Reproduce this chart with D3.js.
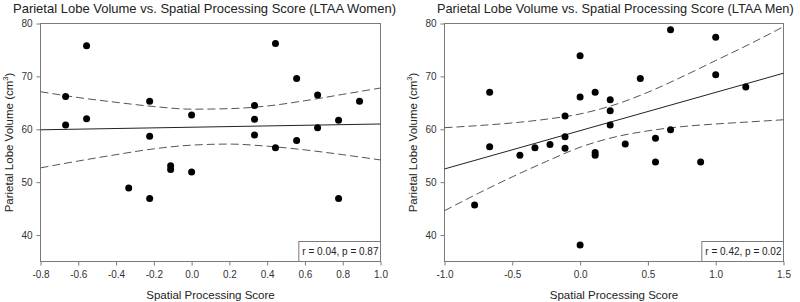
<!DOCTYPE html>
<html>
<head>
<meta charset="utf-8">
<script src="https://cdn.jsdelivr.net/npm/d3@7"></script>
<style>
  body { margin: 0; background: #fff; }
  text { font-family: "Liberation Sans", Arial, sans-serif; }
</style>
</head>
<body>
<svg id="chart" width="800" height="302"></svg>
<script>
// LTAA women: spatial processing score vs parietal lobe volume
const womenScore  = [-0.667, -0.667, -0.556, -0.556, -0.333, -0.222, -0.222, -0.222, -0.111, -0.111, 0.0, 0.0,
                     0.333, 0.333, 0.333, 0.444, 0.444, 0.556, 0.556, 0.667, 0.667, 0.778, 0.778, 0.889];
const womenVolume = [66.2, 60.8, 75.8, 62.0, 48.9, 65.3, 58.7, 46.9, 53.1, 52.4, 62.7, 51.9,
                     64.5, 61.9, 58.9, 76.2, 56.5, 69.6, 57.9, 66.5, 60.3, 61.7, 46.9, 65.3];
const womenFitX   = [-0.8, 1.0];
const womenFitY   = [59.9, 61.0];
const womenBandX  = [-0.8, -0.6, -0.4, -0.2, 0.0, 0.2, 0.4, 0.6, 0.8, 1.0];
const womenUpper  = [67.1, 66.0, 65.1, 64.3, 63.8, 63.9, 64.4, 65.4, 66.6, 67.8];
const womenLower  = [52.7, 54.0, 55.2, 56.3, 57.0, 57.2, 56.8, 56.1, 55.2, 54.2];
const womenTicks  = [-0.8, -0.6, -0.4, -0.2, 0.0, 0.2, 0.4, 0.6, 0.8, 1.0];

// LTAA men
const menScore  = [-0.778, -0.667, -0.667, -0.444, -0.333, -0.222, -0.111, -0.111, -0.111, 0.0, 0.0, 0.0,
                   0.111, 0.111, 0.111, 0.222, 0.222, 0.222, 0.333, 0.444, 0.556, 0.556, 0.667, 0.667,
                   0.889, 1.0, 1.0, 1.222];
const menVolume = [45.7, 67.0, 56.7, 55.1, 56.5, 57.1, 62.5, 58.6, 56.4, 73.9, 66.1, 38.1,
                   67.0, 55.6, 55.1, 65.6, 63.5, 60.8, 57.2, 69.6, 58.3, 53.8, 78.8, 59.9,
                   53.8, 77.4, 70.3, 68.0];
const menFitX   = [-1.0, 1.5];
const menFitY   = [52.5, 70.6];
const menBandX  = [-1.0, -0.75, -0.5, -0.25, 0.0, 0.25, 0.5, 0.75, 1.0, 1.25, 1.5];
const menUpper  = [60.3, 60.7, 61.2, 61.9, 62.9, 64.6, 67.0, 69.9, 73.0, 76.1, 79.4];
const menLower  = [44.6, 47.9, 51.0, 53.9, 56.6, 58.5, 59.7, 60.5, 61.0, 61.4, 61.8];
const menTicks  = [-1.0, -0.5, 0.0, 0.5, 1.0, 1.5];

const volumeTicks = [40, 50, 60, 70, 80];
const volumeDomain = [35, 80];

const svg = d3.select('#chart');

function drawPanel(p) {
  const x = d3.scaleLinear().domain(p.xDomain).range(p.xRange);
  const y = d3.scaleLinear().domain(volumeDomain).range([261.5, 23.5]);
  const [x0, x1] = p.xRange;
  const g = svg.append('g');

  // title
  g.append('text')
    .attr('x', p.titleX).attr('y', 13)
    .attr('font-size', p.titleSize).attr('fill', '#222')
    .text(p.title);

  // axes
  const xAxis = g.append('g')
    .attr('transform', `translate(0,${y(35)})`)
    .call(d3.axisBottom(x).tickValues(p.xTicks).tickFormat(d => d.toFixed(1))
      .tickSize(4).tickPadding(5).tickSizeOuter(0));
  const yAxis = g.append('g')
    .attr('transform', `translate(${x0},0)`)
    .call(d3.axisLeft(y).tickValues(volumeTicks).tickSize(4).tickPadding(4).tickSizeOuter(0));
  [xAxis, yAxis].forEach(a => {
    a.select('.domain').remove();
    a.selectAll('line').attr('stroke', '#7a7a7a');
    a.selectAll('text').attr('fill', '#333').attr('font-size', 10)
      .style('font-family', '"Liberation Sans", Arial, sans-serif');
  });

  // frame
  g.append('rect')
    .attr('x', x0).attr('y', y(80))
    .attr('width', x1 - x0).attr('height', y(35) - y(80))
    .attr('fill', 'none').attr('stroke', '#7a7a7a');

  // axis labels
  g.append('text')
    .attr('x', (x0 + x1) / 2).attr('y', 299)
    .attr('text-anchor', 'middle').attr('font-size', 11.5).attr('fill', '#222')
    .text('Spatial Processing Score');
  const yl = g.append('text')
    .attr('transform', `translate(${x0 - 28},${(y(35) + y(80)) / 2}) rotate(-90)`)
    .attr('text-anchor', 'middle').attr('font-size', 11.5).attr('fill', '#222');
  yl.append('tspan').text('Parietal Lobe Volume (cm');
  yl.append('tspan').attr('font-size', 7.5).attr('dy', -4.5).text('3');
  yl.append('tspan').attr('dy', 4.5).text(')');

  // confidence bands
  const band = d3.line().x(d => x(d[0])).y(d => y(d[1])).curve(d3.curveMonotoneX);
  [p.upper, p.lower].forEach(arr => {
    g.append('path')
      .datum(p.bandX.map((v, i) => [v, arr[i]]))
      .attr('d', band)
      .attr('fill', 'none').attr('stroke', '#555').attr('stroke-width', 1)
      .attr('stroke-dasharray', '8,4');
  });

  // regression line
  g.append('path')
    .datum(p.fitX.map((v, i) => [v, p.fitY[i]]))
    .attr('d', d3.line().x(d => x(d[0])).y(d => y(d[1])))
    .attr('fill', 'none').attr('stroke', '#222').attr('stroke-width', 1);

  // points
  g.selectAll('.dot')
    .data(p.xs.map((v, i) => [v, p.ys[i]]))
    .enter()
    .append('circle')
    .attr('class', 'dot')
    .attr('cx', d => x(d[0]))
    .attr('cy', d => y(d[1]))
    .attr('r', 3.5)
    .attr('fill', '#000');

  // stats box
  const box = g.append('rect');
  const st = g.append('text')
    .attr('x', x1 - 2).attr('y', 255)
    .attr('text-anchor', 'end').attr('font-size', 10).attr('fill', '#222')
    .text(p.stat);
  const w = st.node().getComputedTextLength();
  box.attr('x', x1 - 2 - w - 3.5).attr('y', 241.5)
    .attr('width', w + 5.5).attr('height', y(35) - 241.5)
    .attr('fill', '#fff').attr('stroke', '#7a7a7a');
}

drawPanel({
  title: 'Parietal Lobe Volume vs. Spatial Processing Score (LTAA Women)', titleX: 13, titleSize: 13,
  xs: womenScore, ys: womenVolume, xDomain: [-0.8, 1.0], xRange: [40.5, 380.5], xTicks: womenTicks,
  fitX: womenFitX, fitY: womenFitY, bandX: womenBandX, upper: womenUpper, lower: womenLower,
  stat: 'r = 0.04, p = 0.87'
});

drawPanel({
  title: 'Parietal Lobe Volume vs. Spatial Processing Score (LTAA Men)', titleX: 437, titleSize: 12.75,
  xs: menScore, ys: menVolume, xDomain: [-1.0, 1.5], xRange: [444.5, 783.5], xTicks: menTicks,
  fitX: menFitX, fitY: menFitY, bandX: menBandX, upper: menUpper, lower: menLower,
  stat: 'r = 0.42, p = 0.02'
});
</script>
</body>
</html>
